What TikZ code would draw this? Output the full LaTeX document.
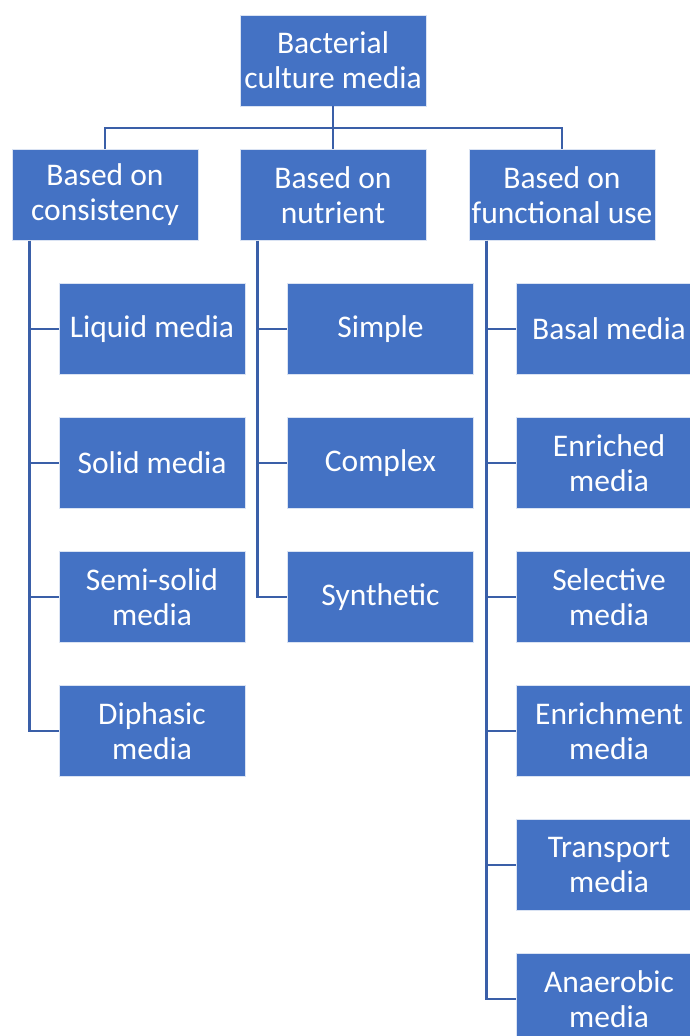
\documentclass[tikz,border=0pt]{standalone}
\usepackage{fontspec}
\setmainfont{Carlito}
\usetikzlibrary{positioning}
\definecolor{boxblue}{RGB}{68,114,196}
\definecolor{linkblue}{RGB}{58,95,168}
\newcommand{\mdfont}{\fontsize{31.5}{35}\selectfont}
\tikzset{
  mediatree/.style={font=\mdfont, x=1pt, y=-1pt},
  % a coloured box of the tree
  mbox/.style={rectangle, fill=boxblue, draw=white!80!boxblue, line width=0.6pt,
               text=white, align=center, minimum width=186pt, minimum height=91pt,
               inner sep=1pt},
  % an elbow connector
  link/.style={draw=linkblue, line width=2.6pt},
}
\newcommand{\mb}[4]{\node[mbox] (#1) at (#2,#3) {#4};}
\newcommand{\sub}[2]{\draw[link] ([xshift=17.5pt]#1.south west) |- (#2.west);}

\begin{document}
\begin{tikzpicture}[mediatree]
  \useasboundingbox (0,0) rectangle (690,1036);
  % root and the three ways of sorting
  \mb{root}{333}{60.5}{Bacterial\\culture media}
  \mb{cons}{105}{195}{Based on\\consistency}
  \mb{nutr}{333}{195}{Based on\\nutrient}
  \mb{func}{562}{195}{Based on\\functional use}
  \coordinate (bus) at (333,128);
  \draw[link] (root.south) -- (bus);
  \draw[link] (bus) -| (cons.north);
  \draw[link] (bus) -- (nutr.north);
  \draw[link] (bus) -| (func.north);

  % consistency
  \mb{liq}{152}{329}{Liquid media}
  \mb{sol}{152}{463}{Solid media}
  \mb{semi}{152}{597}{Semi-solid\\media}
  \mb{diph}{152}{731}{Diphasic\\media}
  \foreach \c in {liq,sol,semi,diph} {\sub{cons}{\c}}

  % nutrient
  \mb{simp}{380.5}{329}{Simple}
  \mb{comp}{380.5}{463}{Complex}
  \mb{synt}{380.5}{597}{Synthetic}
  \foreach \c in {simp,comp,synt} {\sub{nutr}{\c}}

  % functional use
  \mb{basal}{609}{329}{Basal media}
  \mb{enri}{609}{463}{Enriched\\media}
  \mb{sel}{609}{597}{Selective\\media}
  \mb{enrm}{609}{731}{Enrichment\\media}
  \mb{trans}{609}{865}{Transport\\media}
  \mb{anae}{609}{999}{Anaerobic\\media}
  \foreach \c in {basal,enri,sel,enrm,trans,anae} {\sub{func}{\c}}
\end{tikzpicture}
\end{document}
